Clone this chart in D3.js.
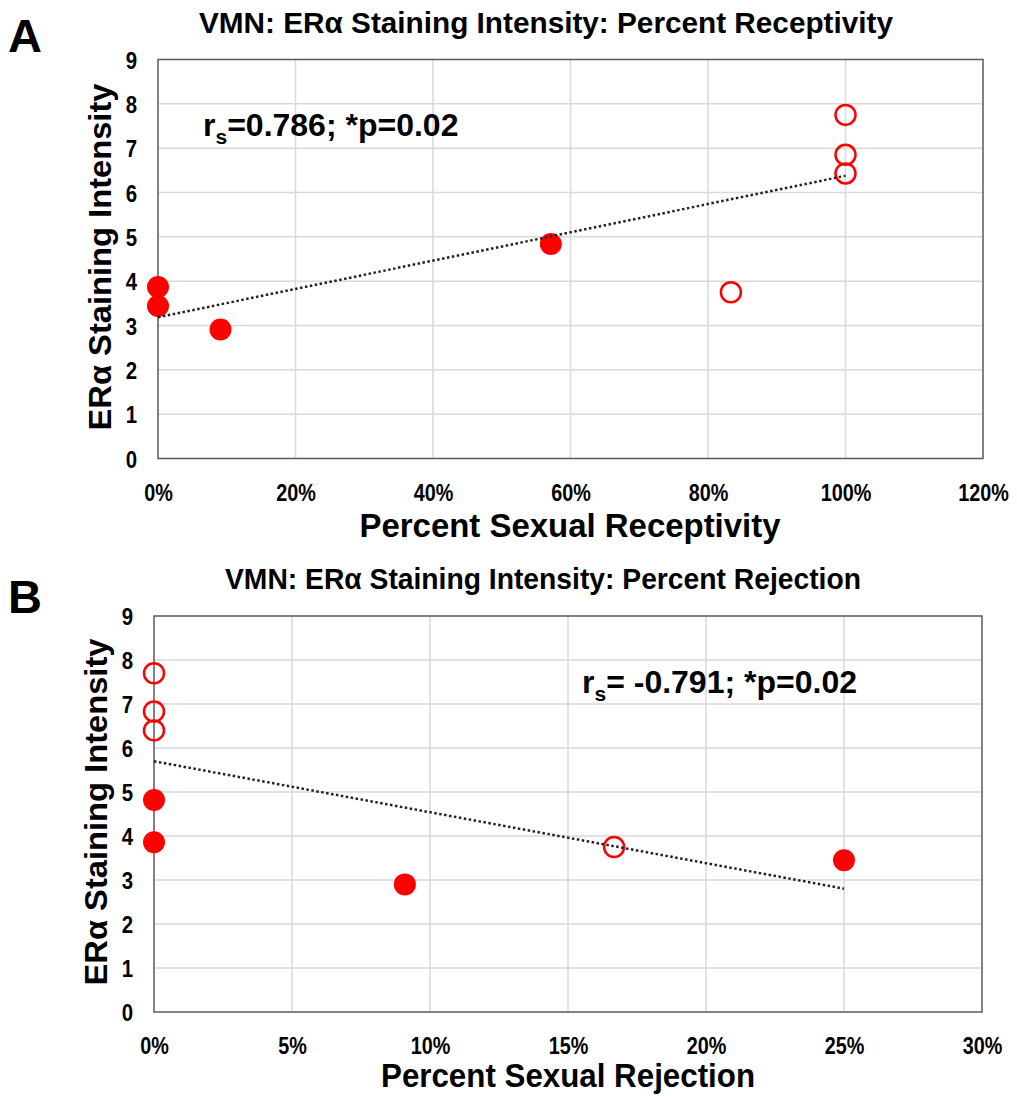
<!DOCTYPE html>
<html>
<head>
<meta charset="utf-8">
<script src="https://cdn.jsdelivr.net/npm/d3@7"></script>
<style>
  html, body { margin: 0; padding: 0; background: #fff; }
  svg text { font-family: "Liberation Sans", Arial, sans-serif; font-weight: bold; fill: #000; }
</style>
</head>
<body>
<svg id="fig" width="1017" height="1096"></svg>
<script>
// Percent sexual receptivity vs. ERα staining intensity (VMN)
const receptivityFilled = [0, 0, 0.0909, 0.5714];
const intensityFilledA  = [3.87, 3.44, 2.91, 4.84];
const receptivityOpen   = [0.8333, 1, 1, 1];
const intensityOpenA    = [3.75, 7.75, 6.85, 6.43];

// Percent sexual rejection vs. ERα staining intensity (VMN)
const rejectionFilled  = [0, 0, 0.0909, 0.25];
const intensityFilledB = [4.82, 3.86, 2.90, 3.45];
const rejectionOpen    = [0, 0, 0, 0.1667];
const intensityOpenB   = [7.70, 6.83, 6.40, 3.75];

const yTicks  = [0, 1, 2, 3, 4, 5, 6, 7, 8, 9];
const xTicksA = [0, 0.2, 0.4, 0.6, 0.8, 1.0, 1.2];
const xTicksB = [0, 0.05, 0.1, 0.15, 0.2, 0.25, 0.3];

const svg = d3.select("#fig");
const pct = d3.format(".0%");
const RED = "#ff0000";

// ordinary least squares fit, drawn between the smallest and largest x
function linearFit(xs, ys) {
  const n = xs.length;
  const mx = d3.mean(xs), my = d3.mean(ys);
  let sxy = 0, sxx = 0;
  for (let i = 0; i < n; i++) { sxy += (xs[i] - mx) * (ys[i] - my); sxx += (xs[i] - mx) ** 2; }
  const b = sxy / sxx, a = my - b * mx;
  const x0 = d3.min(xs), x1 = d3.max(xs);
  return [[x0, a + b * x0], [x1, a + b * x1]];
}

// squeeze a text element horizontally to a fraction of its natural width
function condense(sel, k) {
  sel.each(function() {
    const w = this.getComputedTextLength();
    d3.select(this).attr("textLength", w * k).attr("lengthAdjust", "spacingAndGlyphs");
  });
}

function panel(cfg) {
  const g = svg.append("g");
  const x = d3.scaleLinear().domain(cfg.xDomain).range([cfg.left, cfg.right]);
  const y = d3.scaleLinear().domain([0, 9]).range([cfg.bottom, cfg.top]);

  // grid
  g.append("g").selectAll("line").data(yTicks.slice(1, -1)).join("line")
    .attr("x1", cfg.left).attr("x2", cfg.right)
    .attr("y1", d => y(d)).attr("y2", d => y(d))
    .attr("stroke", "#d9d9d9").attr("stroke-width", 1.5);
  g.append("g").selectAll("line").data(cfg.xTicks.slice(1, -1)).join("line")
    .attr("y1", cfg.top).attr("y2", cfg.bottom)
    .attr("x1", d => x(d)).attr("x2", d => x(d))
    .attr("stroke", "#d9d9d9").attr("stroke-width", 1.5);

  // frame
  g.append("rect")
    .attr("x", cfg.left).attr("y", cfg.top)
    .attr("width", cfg.right - cfg.left).attr("height", cfg.bottom - cfg.top)
    .attr("fill", "none").attr("stroke", "#595959").attr("stroke-width", 1.5);

  // axes (labels only)
  const yAxis = d3.axisLeft(y).tickValues(yTicks).tickSize(0).tickPadding(0);
  const ya = g.append("g").attr("transform", `translate(${cfg.left - 21},0)`).call(yAxis);
  ya.select(".domain").remove();
  ya.selectAll("text").attr("font-size", 24).attr("font-family", null).attr("dy", "0.36em");
  condense(ya.selectAll(".tick text"), 0.85);

  const xAxis = d3.axisBottom(x).tickValues(cfg.xTicks).tickFormat(pct).tickSize(0).tickPadding(0);
  const xa = g.append("g").attr("transform", `translate(0,${cfg.bottom + 42})`).call(xAxis);
  xa.select(".domain").remove();
  xa.selectAll("text").attr("font-size", 23).attr("font-family", null).attr("dy", 0);
  condense(xa.selectAll(".tick text"), 0.86);

  // titles
  g.append("text").attr("x", cfg.titleX).attr("y", cfg.titleY)
    .attr("text-anchor", "middle").attr("font-size", 29)
    .attr("textLength", cfg.titleW).attr("lengthAdjust", "spacingAndGlyphs")
    .text(cfg.title);
  g.append("text").attr("x", cfg.xLabelX).attr("y", cfg.bottom + cfg.xLabelDy)
    .attr("text-anchor", "middle").attr("font-size", 33)
    .attr("textLength", cfg.xLabelW).attr("lengthAdjust", "spacingAndGlyphs")
    .text(cfg.xLabel);
  g.append("text")
    .attr("transform", `translate(${cfg.left - 47},${cfg.yLabelY}) rotate(-90)`)
    .attr("text-anchor", "middle").attr("font-size", 32)
    .attr("textLength", 347).attr("lengthAdjust", "spacingAndGlyphs")
    .text("ERα Staining Intensity");
  g.append("text").attr("x", 8).attr("y", cfg.letterY)
    .attr("font-size", 47).text(cfg.letter);

  // correlation note
  const note = g.append("text").attr("x", cfg.noteX).attr("y", cfg.noteY).attr("font-size", 32);
  note.append("tspan").text("r");
  note.append("tspan").attr("font-size", 21).attr("dy", 8).text("s");
  note.append("tspan").attr("dy", -8).text(cfg.note);

  // points
  g.append("g").selectAll("circle").data(d3.zip(cfg.xf, cfg.yf)).join("circle")
    .attr("cx", d => x(d[0])).attr("cy", d => y(d[1])).attr("r", 11).attr("fill", RED);
  g.append("g").selectAll("circle").data(d3.zip(cfg.xo, cfg.yo)).join("circle")
    .attr("cx", d => x(d[0])).attr("cy", d => y(d[1])).attr("r", 10)
    .attr("fill", "none").attr("stroke", RED).attr("stroke-width", 2.5);

  // trend line
  const fit = linearFit(cfg.xf.concat(cfg.xo), cfg.yf.concat(cfg.yo));
  g.append("path")
    .attr("d", d3.line().x(d => x(d[0])).y(d => y(d[1]))(fit))
    .attr("fill", "none").attr("stroke", "#222").attr("stroke-width", 2.5)
    .attr("stroke-dasharray", "2.5 2.5");
}

panel({
  letter: "A", letterY: 52,
  title: "VMN: ERα Staining Intensity: Percent Receptivity", titleX: 546, titleY: 33, titleW: 694,
  xLabel: "Percent Sexual Receptivity", xLabelX: 570, xLabelW: 421, xLabelDy: 78,
  yLabelY: 257,
  xDomain: [0, 1.2], xTicks: xTicksA,
  left: 158, right: 983, top: 59.5, bottom: 458.5,
  xf: receptivityFilled, yf: intensityFilledA, xo: receptivityOpen, yo: intensityOpenA,
  noteX: 203, noteY: 136, note: "=0.786; *p=0.02"
});

panel({
  letter: "B", letterY: 613,
  title: "VMN: ERα Staining Intensity: Percent Rejection", titleX: 543, titleY: 589, titleW: 636,
  xLabel: "Percent Sexual Rejection", xLabelX: 568, xLabelW: 374, xLabelDy: 75,
  yLabelY: 812,
  xDomain: [0, 0.3], xTicks: xTicksB,
  left: 154, right: 982, top: 616, bottom: 1012,
  xf: rejectionFilled, yf: intensityFilledB, xo: rejectionOpen, yo: intensityOpenB,
  noteX: 582, noteY: 693, note: "= -0.791; *p=0.02"
});
</script>
</body>
</html>
